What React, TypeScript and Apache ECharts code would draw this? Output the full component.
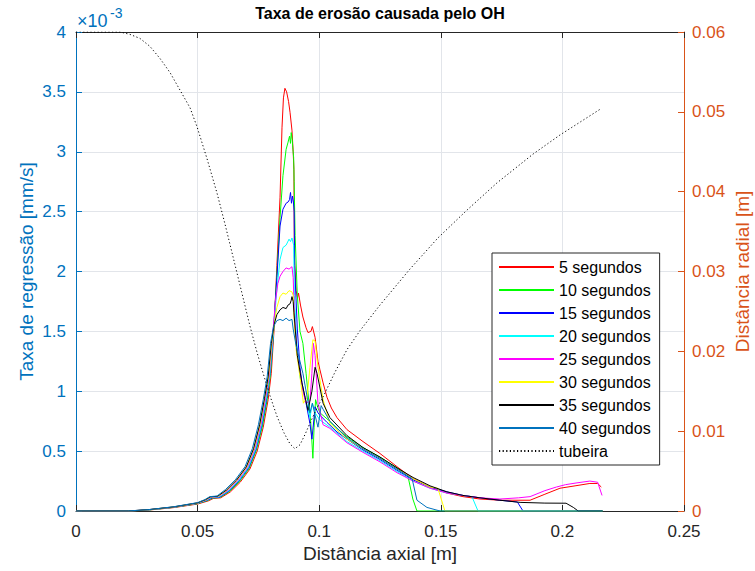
import { useEffect, useRef } from "react";
import * as echarts from "echarts";

const FONT = '"Liberation Sans", Arial, Helvetica, sans-serif';
const AXIS_DARK = "#262626";
const LEFT_COLOR = "#0072BD";
const RIGHT_COLOR = "#D95319";
const GRID_COLOR = "#e2e5ea";

const TITLE = "Taxa de erosão causada pelo OH";
const X_NAME = "Distância axial [m]";
const Y_LEFT_NAME = "Taxa de regressão [mm/s]";
const Y_RIGHT_NAME = "Distância radial [m]";
const LEFT_MULTIPLIER = "×10";
const LEFT_EXPONENT = "-3";

const seriesNames = [
  "5 segundos",
  "10 segundos",
  "15 segundos",
  "20 segundos",
  "25 segundos",
  "30 segundos",
  "35 segundos",
  "40 segundos",
];
const seriesColors = ["#ff0000", "#00ff00", "#0000ff", "#00ffff", "#ff00ff", "#ffff00", "#000000", "#0072BD"];
const NOZZLE_NAME = "tubeira";

// Regression rate (×10^-3 mm/s) against axial distance (m)
const rate5s: [number, number][] = [
  [0, 0], [0.023, 0], [0.03, 0.008], [0.04, 0.028], [0.05, 0.058], [0.0545, 0.085], [0.0565, 0.105],
  [0.0595, 0.11], [0.0635, 0.16], [0.0675, 0.24], [0.0715, 0.35], [0.0745, 0.5], [0.077, 0.7],
  [0.079, 0.93], [0.0803, 1.15], [0.0814, 1.5], [0.0826, 2.05], [0.0839, 2.62], [0.0847, 3.2],
  [0.0853, 3.45], [0.0859, 3.53], [0.0866, 3.5], [0.0874, 3.42], [0.088, 3.33], [0.0888, 3.18],
  [0.0893, 3.0], [0.0896, 2.85], [0.0898, 2.12], [0.0905, 1.84], [0.0911, 1.78], [0.0915, 1.82],
  [0.0923, 1.72], [0.0933, 1.62], [0.0946, 1.53], [0.0954, 1.49], [0.0966, 1.5], [0.0972, 1.54],
  [0.0983, 1.45], [0.0995, 1.25], [0.1003, 1.18], [0.1016, 1.07], [0.1032, 0.95], [0.105, 0.86],
  [0.1073, 0.78], [0.1114, 0.68], [0.118, 0.58], [0.125, 0.48], [0.132, 0.37], [0.1386, 0.27],
  [0.1456, 0.2], [0.1525, 0.15], [0.1591, 0.12], [0.1661, 0.1], [0.1743, 0.09], [0.1867, 0.09],
  [0.1928, 0.14], [0.199, 0.19], [0.2052, 0.21], [0.2113, 0.23], [0.2145, 0.23], [0.216, 0.2],
];

const rate10s: [number, number][] = [
  [0, 0], [0.023, 0], [0.03, 0.009], [0.04, 0.03], [0.05, 0.061], [0.0542, 0.088], [0.0562, 0.108],
  [0.0592, 0.113], [0.0632, 0.165], [0.0672, 0.245], [0.0712, 0.355], [0.0742, 0.51], [0.0767, 0.71],
  [0.0787, 0.94], [0.08, 1.15], [0.0811, 1.45], [0.0826, 1.98], [0.0839, 2.45], [0.0851, 2.8],
  [0.0864, 3.02], [0.0872, 3.08], [0.0878, 3.13], [0.0882, 3.07], [0.0885, 3.16], [0.0889, 3.1],
  [0.0892, 3.02], [0.0895, 2.95], [0.0897, 2.75], [0.0901, 2.3], [0.091, 1.8], [0.0921, 1.5],
  [0.0933, 1.4], [0.0946, 1.15], [0.0958, 0.9], [0.0966, 0.72], [0.0974, 0.44], [0.0979, 0.7],
  [0.0985, 0.93], [0.0995, 0.86], [0.1003, 0.82], [0.1032, 0.77], [0.1073, 0.69], [0.1114, 0.62],
  [0.118, 0.53], [0.125, 0.45], [0.132, 0.36], [0.1365, 0.29], [0.1385, 0.1], [0.1402, 0], [0.2165, 0],
];

const rate15s: [number, number][] = [
  [0, 0], [0.0225, 0], [0.03, 0.01], [0.04, 0.031], [0.05, 0.063], [0.054, 0.09], [0.056, 0.11],
  [0.059, 0.115], [0.063, 0.168], [0.067, 0.25], [0.071, 0.36], [0.074, 0.515], [0.0765, 0.72],
  [0.0785, 0.95], [0.0798, 1.15], [0.081, 1.43], [0.0826, 1.95], [0.0839, 2.38], [0.0851, 2.52],
  [0.0864, 2.57], [0.0872, 2.58], [0.0878, 2.6], [0.0882, 2.66], [0.0886, 2.57], [0.089, 2.63],
  [0.0894, 2.58], [0.0897, 2.5], [0.0899, 2.05], [0.091, 1.52], [0.0921, 1.2], [0.0929, 1.07],
  [0.0946, 0.9], [0.0962, 0.73], [0.097, 0.6], [0.0978, 0.76], [0.0983, 0.87], [0.0995, 0.82],
  [0.1003, 0.8], [0.1032, 0.74], [0.1073, 0.66], [0.1114, 0.6], [0.118, 0.51], [0.125, 0.43],
  [0.132, 0.34], [0.1386, 0.26], [0.1456, 0.2], [0.1525, 0.16], [0.1591, 0.13], [0.1661, 0.11],
  [0.1743, 0.09], [0.1815, 0.075], [0.1838, 0], [0.2165, 0],
];

const rate20s: [number, number][] = [
  [0, 0], [0.0222, 0], [0.03, 0.01], [0.04, 0.032], [0.05, 0.064], [0.0538, 0.091], [0.0558, 0.113],
  [0.0588, 0.117], [0.0628, 0.17], [0.0668, 0.252], [0.0708, 0.362], [0.0738, 0.515], [0.0763, 0.72],
  [0.0783, 0.95], [0.0796, 1.12], [0.0808, 1.4], [0.0826, 1.85], [0.0839, 2.1], [0.0851, 2.2],
  [0.0864, 2.22], [0.0876, 2.27], [0.0882, 2.25], [0.0888, 2.28], [0.0895, 2.22], [0.0898, 1.8],
  [0.0908, 1.4], [0.0921, 1.12], [0.0935, 1.0], [0.0954, 0.85], [0.0962, 0.78], [0.0972, 0.9],
  [0.0983, 0.82], [0.1003, 0.76], [0.1044, 0.7], [0.1114, 0.58], [0.118, 0.5], [0.125, 0.42],
  [0.132, 0.33], [0.1386, 0.25], [0.1456, 0.19], [0.1525, 0.15], [0.1591, 0.13], [0.1628, 0.12],
  [0.1653, 0], [0.2165, 0],
];

const rate25s: [number, number][] = [
  [0, 0], [0.022, 0], [0.03, 0.011], [0.04, 0.032], [0.05, 0.065], [0.0536, 0.092], [0.0556, 0.115],
  [0.0586, 0.12], [0.0625, 0.172], [0.0665, 0.255], [0.0705, 0.365], [0.0735, 0.518], [0.076, 0.72],
  [0.078, 0.95], [0.0794, 1.12], [0.0806, 1.4], [0.082, 1.75], [0.083, 1.9], [0.0839, 1.96],
  [0.0851, 2.0], [0.0864, 2.03], [0.0876, 2.02], [0.0888, 2.04], [0.0893, 1.95], [0.0898, 1.65],
  [0.091, 1.3], [0.0921, 1.15], [0.0933, 1.0], [0.0946, 0.9], [0.0962, 0.92], [0.097, 1.15],
  [0.0976, 1.4], [0.0983, 1.3], [0.0995, 0.9], [0.1016, 0.72], [0.1044, 0.69], [0.1114, 0.57],
  [0.118, 0.49], [0.125, 0.41], [0.132, 0.32], [0.1386, 0.25], [0.1456, 0.19], [0.1525, 0.15],
  [0.1591, 0.13], [0.1661, 0.11], [0.1743, 0.1], [0.182, 0.11], [0.1867, 0.12], [0.1928, 0.17],
  [0.1975, 0.2], [0.2013, 0.22], [0.206, 0.235], [0.2113, 0.25], [0.2145, 0.24], [0.2163, 0.13],
];

const rate30s: [number, number][] = [
  [0, 0], [0.0218, 0], [0.03, 0.011], [0.04, 0.033], [0.05, 0.066], [0.0534, 0.093], [0.0554, 0.117],
  [0.0584, 0.122], [0.0622, 0.175], [0.0662, 0.257], [0.0702, 0.367], [0.0732, 0.52], [0.0757, 0.72],
  [0.0777, 0.95], [0.0792, 1.12], [0.0805, 1.4], [0.0818, 1.6], [0.0826, 1.7], [0.0839, 1.79],
  [0.0851, 1.82], [0.0864, 1.81], [0.0876, 1.84], [0.0888, 1.83], [0.0893, 1.8], [0.0897, 1.6],
  [0.0905, 1.35], [0.0921, 1.12], [0.0929, 1.0], [0.0935, 0.9], [0.095, 0.95], [0.0962, 1.2],
  [0.0974, 1.43], [0.0983, 1.42], [0.0995, 1.2], [0.1016, 0.93], [0.1044, 0.73], [0.1114, 0.6],
  [0.118, 0.52], [0.125, 0.44], [0.132, 0.35], [0.1386, 0.27], [0.1456, 0.2], [0.1488, 0.19],
  [0.1517, 0], [0.2165, 0],
];

const rate35s: [number, number][] = [
  [0, 0], [0.0215, 0], [0.03, 0.012], [0.04, 0.034], [0.05, 0.068], [0.0532, 0.094], [0.0552, 0.118],
  [0.0582, 0.123], [0.062, 0.177], [0.066, 0.258], [0.07, 0.368], [0.073, 0.52], [0.0755, 0.72],
  [0.0775, 0.94], [0.079, 1.12], [0.0803, 1.4], [0.0815, 1.56], [0.0826, 1.64], [0.0839, 1.68],
  [0.0851, 1.7], [0.0864, 1.69], [0.0872, 1.72], [0.088, 1.73], [0.0885, 1.76], [0.0888, 1.79],
  [0.0893, 1.75], [0.0896, 1.66], [0.091, 1.3], [0.0929, 1.07], [0.0942, 0.95], [0.0954, 0.84],
  [0.097, 1.0], [0.0983, 1.2], [0.0991, 1.15], [0.1016, 0.9], [0.1044, 0.78], [0.1114, 0.63],
  [0.118, 0.53], [0.125, 0.45], [0.132, 0.36], [0.1386, 0.28], [0.1456, 0.21], [0.1525, 0.16],
  [0.1591, 0.13], [0.1661, 0.11], [0.1743, 0.09], [0.1826, 0.072], [0.1928, 0.066], [0.2015, 0.065],
  [0.2045, 0.03], [0.2065, 0], [0.2165, 0],
];

const rate40s: [number, number][] = [
  [0, 0], [0.021, 0], [0.03, 0.012], [0.04, 0.035], [0.05, 0.07], [0.053, 0.095], [0.055, 0.12],
  [0.058, 0.125], [0.0615, 0.18], [0.0655, 0.26], [0.0695, 0.37], [0.0725, 0.52], [0.075, 0.72],
  [0.077, 0.93], [0.0786, 1.12], [0.08, 1.4], [0.0812, 1.54], [0.0826, 1.59], [0.0839, 1.6],
  [0.0851, 1.59], [0.0864, 1.61], [0.0876, 1.59], [0.0888, 1.6], [0.0893, 1.52], [0.0905, 1.38],
  [0.0921, 1.25], [0.0933, 1.15], [0.0962, 0.82], [0.0972, 0.9], [0.0983, 0.8], [0.0995, 0.7],
  [0.1008, 0.88], [0.1016, 0.85], [0.1044, 0.75], [0.1114, 0.61], [0.118, 0.52], [0.125, 0.44],
  [0.132, 0.35], [0.1382, 0.27], [0.1402, 0.09], [0.1443, 0.03], [0.1497, 0], [0.2165, 0],
];

// Nozzle contour: radial distance (m) against axial distance (m)
const nozzle: [number, number][] = [
  [0, 0.06], [0.0099, 0.06], [0.0181, 0.06], [0.0222, 0.0597], [0.0263, 0.0592], [0.0304, 0.0582],
  [0.0345, 0.0567], [0.0387, 0.0549], [0.0428, 0.0527], [0.0469, 0.0505], [0.0498, 0.0481],
  [0.0539, 0.0441], [0.058, 0.0398], [0.0613, 0.0359], [0.0646, 0.0318], [0.0683, 0.0272],
  [0.0715, 0.0232], [0.0744, 0.0199], [0.0769, 0.0173], [0.0798, 0.0144], [0.0826, 0.0119],
  [0.0855, 0.0098], [0.088, 0.0084], [0.09, 0.0078], [0.0921, 0.0083], [0.0942, 0.0096],
  [0.0962, 0.011], [0.0991, 0.0129], [0.1016, 0.0143], [0.1065, 0.0174], [0.1114, 0.0202],
  [0.1168, 0.0226], [0.125, 0.0258], [0.1373, 0.0303], [0.1488, 0.0342], [0.1608, 0.0377],
  [0.1731, 0.0411], [0.1879, 0.0447], [0.199, 0.0471], [0.2072, 0.0487], [0.2159, 0.0504],
];

const rateSeries = [rate5s, rate10s, rate15s, rate20s, rate25s, rate30s, rate35s, rate40s];

export default function App() {
  const ref = useRef<HTMLDivElement>(null);

  useEffect(() => {
    document.body.style.margin = "0";
    if (!ref.current) return;
    const chart = echarts.init(ref.current, undefined, { renderer: "svg" });

    const series: any[] = rateSeries.map((data, i) => ({
      type: "line",
      name: seriesNames[i],
      data,
      xAxisIndex: 0,
      yAxisIndex: 0,
      symbol: "none",
      showSymbol: false,
      silent: true,
      lineStyle: { color: seriesColors[i], width: 1 },
      itemStyle: { color: seriesColors[i] },
    }));
    series.push({
      type: "line",
      name: NOZZLE_NAME,
      data: nozzle,
      xAxisIndex: 0,
      yAxisIndex: 1,
      symbol: "none",
      showSymbol: false,
      silent: true,
      lineStyle: { color: "#000000", width: 1, type: [1.2, 2.4] },
      itemStyle: { color: "#000000" },
    });

    const plotLeft = 76;
    const plotRight = 684;
    const plotTop = 32;
    const plotBottom = 511;
    const midX = (plotLeft + plotRight) / 2;
    const midY = (plotTop + plotBottom) / 2;

    const textStyle = (text: string, fill: string, fontSize: number) => ({
      text,
      fill,
      fontFamily: FONT,
      fontSize,
      textAlign: "center",
      textVerticalAlign: "middle",
      align: "center",
      verticalAlign: "middle",
    });

    chart.setOption({
      animation: false,
      backgroundColor: "#ffffff",
      textStyle: { fontFamily: FONT },
      grid: { left: plotLeft, right: 755 - plotRight, top: plotTop, bottom: 571 - plotBottom, containLabel: false },
      title: {
        text: TITLE,
        left: midX,
        top: 5,
        padding: 0,
        textAlign: "center",
        textStyle: { fontFamily: FONT, fontSize: 16, fontWeight: "bold", color: "#000000" },
      },
      legend: {
        orient: "vertical",
        left: 492,
        top: 253,
        padding: [6, 9, 6, 6],
        itemWidth: 55,
        itemHeight: 14,
        itemGap: 7,
        backgroundColor: "#ffffff",
        borderColor: AXIS_DARK,
        borderWidth: 1,
        borderRadius: 0,
        itemStyle: { opacity: 0 },
        data: [...seriesNames, NOZZLE_NAME],
        textStyle: { fontFamily: FONT, fontSize: 16, color: "#000000", lineHeight: 16 },
      },
      xAxis: [
        {
          type: "value",
          min: 0,
          max: 0.25,
          interval: 0.05,
          position: "bottom",
          axisLine: { show: true, onZero: false, lineStyle: { color: AXIS_DARK, width: 1 } },
          axisTick: { show: true, inside: true, length: 6, lineStyle: { color: AXIS_DARK } },
          axisLabel: { fontFamily: FONT, fontSize: 17, color: AXIS_DARK, margin: 12 },
          splitLine: { show: true, lineStyle: { color: GRID_COLOR, width: 1 } },
        },
        {
          type: "value",
          min: 0,
          max: 0.25,
          interval: 0.05,
          position: "top",
          axisLine: { show: true, onZero: false, lineStyle: { color: AXIS_DARK, width: 1 } },
          axisTick: { show: true, inside: true, length: 6, lineStyle: { color: AXIS_DARK } },
          axisLabel: { show: false },
          splitLine: { show: false },
        },
      ],
      yAxis: [
        {
          type: "value",
          min: 0,
          max: 4,
          interval: 0.5,
          position: "left",
          axisLine: { show: true, onZero: false, lineStyle: { color: LEFT_COLOR, width: 1 } },
          axisTick: { show: true, inside: true, length: 6, lineStyle: { color: LEFT_COLOR } },
          axisLabel: { fontFamily: FONT, fontSize: 17, color: LEFT_COLOR, margin: 10 },
          splitLine: { show: true, lineStyle: { color: GRID_COLOR, width: 1 } },
        },
        {
          type: "value",
          min: 0,
          max: 0.06,
          interval: 0.01,
          position: "right",
          axisLine: { show: true, onZero: false, lineStyle: { color: RIGHT_COLOR, width: 1 } },
          axisTick: { show: true, inside: true, length: 6, lineStyle: { color: RIGHT_COLOR } },
          axisLabel: { fontFamily: FONT, fontSize: 17, color: RIGHT_COLOR, margin: 8 },
          splitLine: { show: false },
        },
      ],
      graphic: [
        {
          type: "text",
          x: midX,
          y: 553,
          silent: true,
          style: textStyle(X_NAME, AXIS_DARK, 19),
        },
        {
          type: "text",
          x: 26,
          y: midY,
          rotation: Math.PI / 2,
          silent: true,
          style: textStyle(Y_LEFT_NAME, LEFT_COLOR, 19),
        },
        {
          type: "text",
          x: 742,
          y: midY,
          rotation: Math.PI / 2,
          silent: true,
          style: textStyle(Y_RIGHT_NAME, RIGHT_COLOR, 19),
        },
        {
          type: "text",
          x: 77,
          y: 21,
          silent: true,
          style: {
            text: LEFT_MULTIPLIER,
            fill: LEFT_COLOR,
            fontFamily: FONT,
            fontSize: 18,
            textAlign: "left",
            textVerticalAlign: "middle",
            align: "left",
            verticalAlign: "middle",
          },
        },
        {
          type: "text",
          x: 110,
          y: 13,
          silent: true,
          style: {
            text: LEFT_EXPONENT,
            fill: LEFT_COLOR,
            fontFamily: FONT,
            fontSize: 14,
            textAlign: "left",
            textVerticalAlign: "middle",
            align: "left",
            verticalAlign: "middle",
          },
        },
      ],
      series,
    });

    return () => chart.dispose();
  }, []);

  return <div ref={ref} style={{ width: 755, height: 571 }} />;
}
